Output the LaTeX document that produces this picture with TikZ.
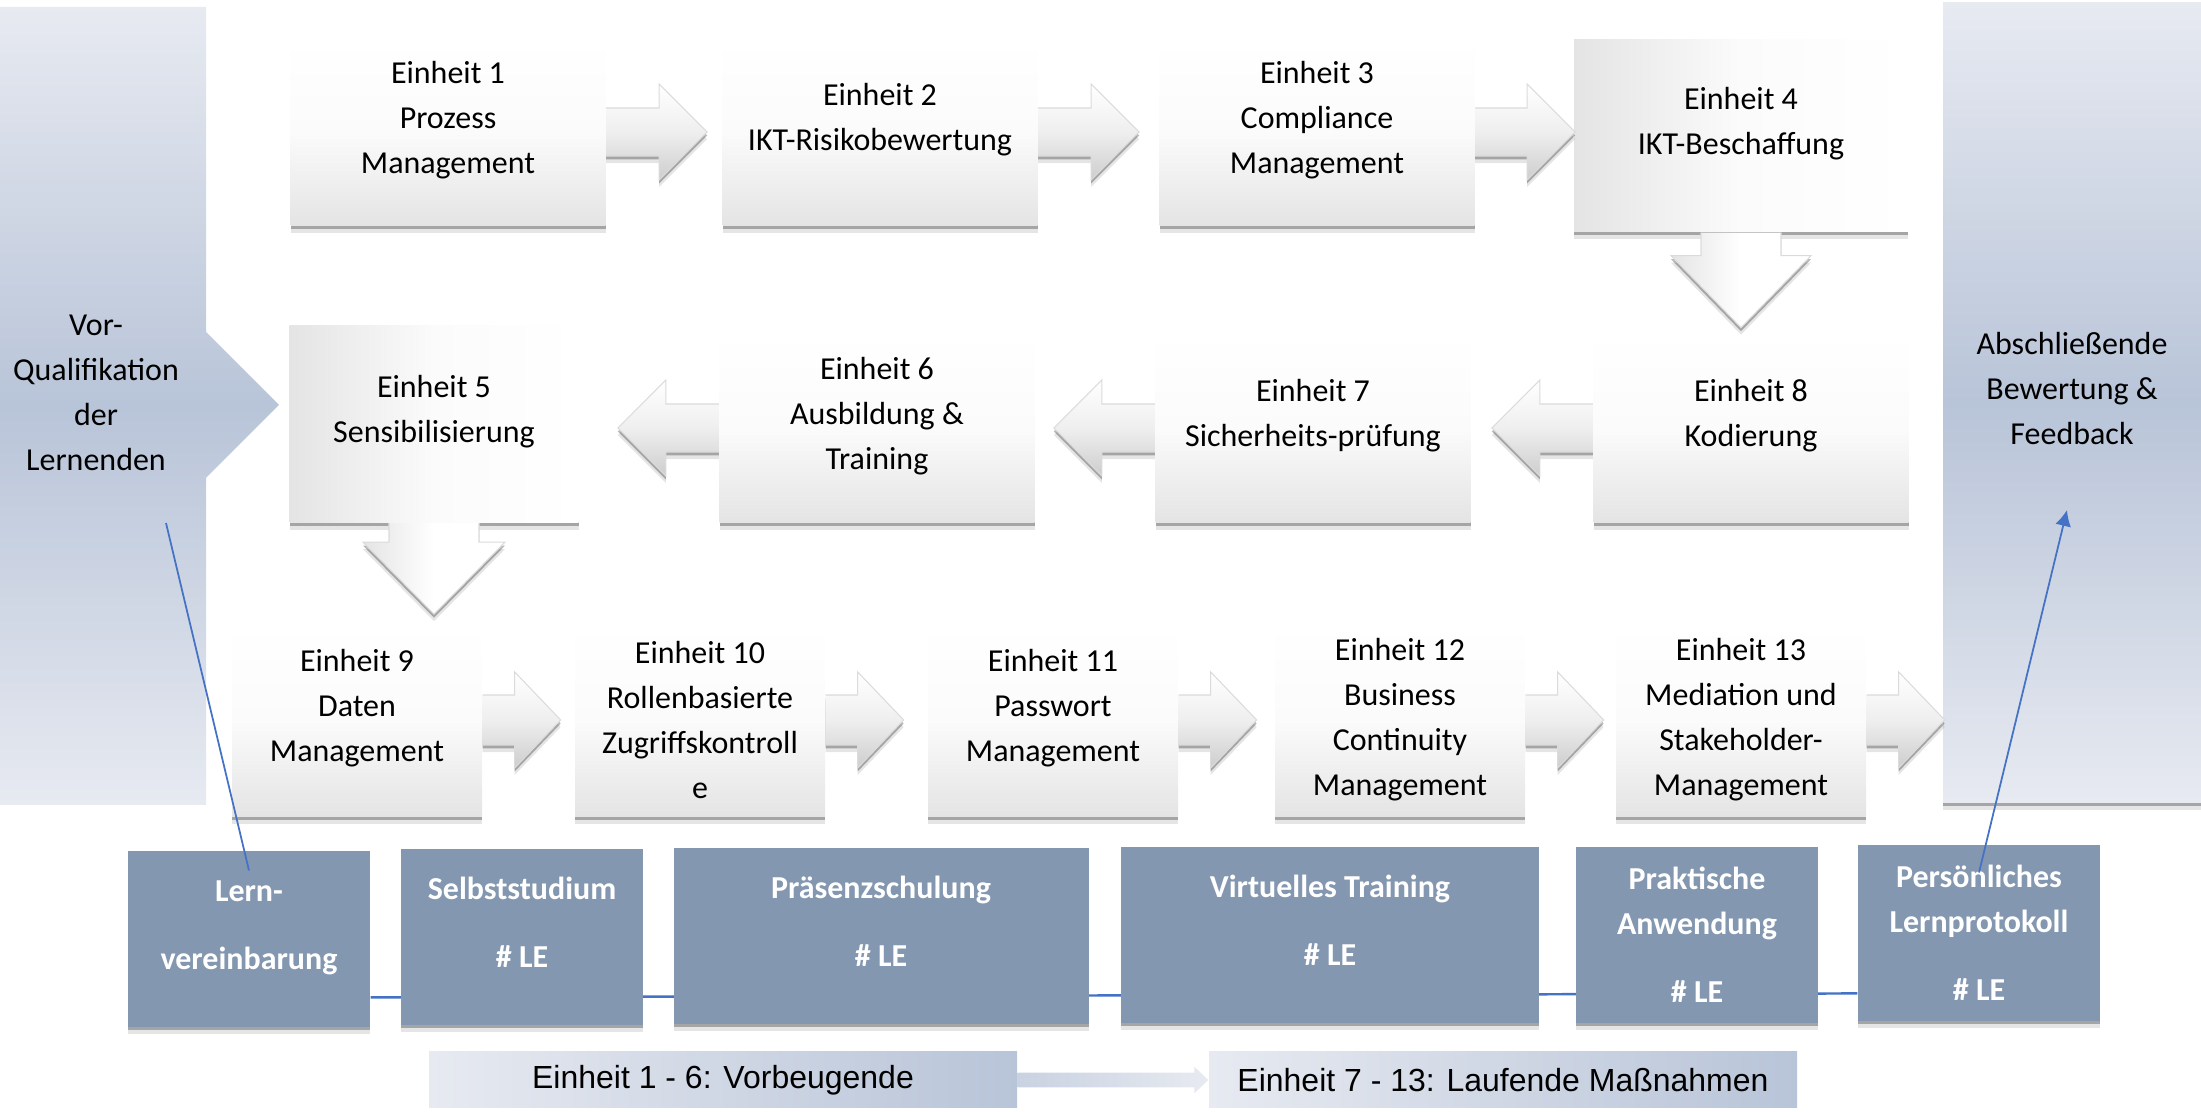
\documentclass[tikz,border=0pt]{standalone}
\usepackage{fontspec}
\setmainfont{Carlito}
\newfontfamily\arialfont{Liberation Sans}
\usetikzlibrary{arrows.meta,positioning,calc,shadows,backgrounds}

\definecolor{panellight}{HTML}{E7EAF1}
\definecolor{paneldark}{HTML}{B8C4D8}
\definecolor{methodblue}{HTML}{8497B0}
\definecolor{linkblue}{HTML}{4472C4}
\definecolor{unitgray}{HTML}{E4E4E4}
\definecolor{unitmid}{HTML}{FBFBFB}
\definecolor{phaselight}{HTML}{E7EAF1}
\definecolor{phasedark}{HTML}{B8C4D8}
\definecolor{phasearrow}{HTML}{C9D2E1}

% text block nudged up inside its box, box size unchanged
\newcommand{\lifted}[1]{\raisebox{1.25mm}[\height][\depth]{\begin{tabular}{@{}c@{}}#1\end{tabular}}}

\begin{document}
\begin{tikzpicture}[>=Latex,
    soft shadow/.style={
      drop shadow={shadow xshift=0pt, shadow yshift=-2.0pt, opacity=0.10, fill=black},
      drop shadow={shadow xshift=0pt, shadow yshift=-1.0pt, opacity=0.28, fill=black}},
    unitbase/.style={align=center, inner sep=0pt, minimum width=3.15cm, minimum height=1.88cm,
      font={\fontsize{9.1}{12.8}\selectfont}, soft shadow},
    unitbox/.style={unitbase, top color=white, bottom color=unitgray, middle color=unitmid},
    unitside/.style={unitbase, left color=unitgray, right color=white, middle color=unitmid},
    flowarrow/.style={draw=black!14, line width=0.3pt, top color=white, bottom color=unitgray!90!black, middle color=white!40!unitgray, soft shadow},
    droparrow/.style={draw=black!14, line width=0.3pt, left color=unitgray, right color=white, middle color=white, soft shadow},
    methodbox/.style={fill=methodblue, text=white, font={\fontsize{9.1}{12.8}\selectfont\bfseries},
      align=center, inner sep=0pt, minimum width=2.42cm, minimum height=1.755cm, soft shadow},
    panel/.style={top color=panellight, bottom color=panellight, middle color=paneldark},
    phasebox/.style={left color=phaselight, right color=phasedark, inner sep=0pt,
      minimum width=5.88cm, minimum height=0.56cm, font={\arialfont\fontsize{9.1}{11}\selectfont}},
    link/.style={draw=linkblue, line width=0.5pt}]

    \useasboundingbox (0,0) rectangle (22.01,11.12);

    % side panels
    \path[panel] (0,11.05) -- (2.06,11.05) -- (2.06,7.80) -- (2.79,7.07) -- (2.06,6.34) -- (2.06,3.07) -- (0,3.07) -- cycle;
    \node[align=center, font={\fontsize{9.1}{12.8}\selectfont}] (quali) at (0.96,7.19) {Vor-\\Qualifikation\\der\\Lernenden};
    \node[panel, soft shadow, align=center, inner sep=0pt, minimum width=2.58cm, minimum height=8.0cm,
      font={\fontsize{9.1}{12.8}\selectfont}] (bewertung) at (20.72,7.09) {\lifted{Abschließende\\Bewertung \&\\Feedback}};

    % units, first row
    \node[unitbox] (e1) at (4.48,9.80) {\lifted{Einheit 1\\Prozess\\Management}};
    \node[unitbox] (e2) at (8.80,9.80) {\lifted{Einheit 2\\IKT-Risikobewertung}};
    \node[unitbox] (e3) at (13.17,9.80) {\lifted{Einheit 3\\Compliance\\Management}};
    \node[unitside, minimum width=3.34cm, minimum height=1.92cm] (e4) at (17.41,9.76) {\lifted{Einheit 4\\IKT-Beschaffung}};

    % units, second row
    \node[unitside, minimum width=2.89cm, minimum height=1.97cm] (e5) at (4.34,6.88) {\lifted{Einheit 5\\Sensibilisierung}};
    \node[unitbox, minimum height=1.9cm] (e6) at (8.77,6.84) {\lifted{Einheit 6\\Ausbildung \&\\Training}};
    \node[unitbox, minimum height=1.9cm] (e7) at (13.13,6.84) {\lifted{Einheit 7\\Sicherheits-prüfung}};
    \node[unitbox, minimum height=1.9cm] (e8) at (17.51,6.84) {\lifted{Einheit 8\\Kodierung}};

    % units, third row
    \node[unitbox, minimum width=2.5cm, minimum height=1.94cm] (e9) at (3.57,3.92) {\lifted{Einheit 9\\Daten\\Management}};
    \node[unitbox, minimum width=2.5cm, minimum height=1.94cm] (e10) at (7.00,3.92) {Einheit 10\\Rollenbasierte\\Zugriffskontroll\\e};
    \node[unitbox, minimum width=2.5cm, minimum height=1.94cm] (e11) at (10.53,3.92) {\lifted{Einheit 11\\Passwort\\Management}};
    \node[unitbox, minimum width=2.5cm, minimum height=1.94cm] (e12) at (14.00,3.92) {Einheit 12\\Business\\Continuity\\Management};
    \node[unitbox, minimum width=2.5cm, minimum height=1.94cm] (e13) at (17.41,3.92) {Einheit 13\\Mediation und\\Stakeholder-\\Management};

    % block arrows between the units
    \path[flowarrow] ([yshift=0.24cm]e1.east) -- ++(0.53,0) -- ++(0,0.24) -- ++(0.48,-0.48) -- ++(-0.48,-0.48) -- ++(0,0.24) -- ++(-0.53,0);
    \path[flowarrow] ([yshift=0.24cm]e2.east) -- ++(0.53,0) -- ++(0,0.24) -- ++(0.48,-0.48) -- ++(-0.48,-0.48) -- ++(0,0.24) -- ++(-0.53,0);
    \path[flowarrow] ([yshift=0.24cm]e3.east) -- ++(0.52,0) -- ++(0,0.24) -- ++(0.48,-0.48) -- ++(-0.48,-0.48) -- ++(0,0.24) -- ++(-0.52,0);
    \path[droparrow] ([xshift=-0.40cm]e4.south) -- ++(0,-0.23) -- ++(-0.30,0) -- ++(0.70,-0.72) -- ++(0.70,0.72) -- ++(-0.30,0) -- ++(0,0.23);

    \path[flowarrow] ([yshift=0.24cm]e8.west) -- ++(-0.53,0) -- ++(0,0.24) -- ++(-0.48,-0.48) -- ++(0.48,-0.48) -- ++(0,0.24) -- ++(0.53,0);
    \path[flowarrow] ([yshift=0.24cm]e7.west) -- ++(-0.53,0) -- ++(0,0.24) -- ++(-0.48,-0.48) -- ++(0.48,-0.48) -- ++(0,0.24) -- ++(0.53,0);
    \path[flowarrow] ([yshift=0.24cm]e6.west) -- ++(-0.53,0) -- ++(0,0.24) -- ++(-0.48,-0.48) -- ++(0.48,-0.48) -- ++(0,0.24) -- ++(0.53,0);
    \path[droparrow] ([xshift=-0.45cm]e5.south) -- ++(0,-0.19) -- ++(-0.26,0) -- ++(0.71,-0.72) -- ++(0.71,0.72) -- ++(-0.26,0) -- ++(0,0.19);

    \foreach \u in {e9,e10,e11,e12,e13}
      \path[flowarrow] ([yshift=0.25cm]\u.east) -- ++(0.32,0) -- ++(0,0.23) -- ++(0.46,-0.48) -- ++(-0.46,-0.48) -- ++(0,0.23) -- ++(-0.32,0);

    % learning formats
    \node[methodbox] (b1) at (2.49,1.73) {\lifted{Lern-\\[6.4pt]vereinbarung}};
    \node[methodbox] (b2) at (5.22,1.75) {\lifted{Selbststudium\\[6.4pt]\# LE}};
    \node[methodbox, minimum width=4.15cm] (b3) at (8.81,1.76) {\lifted{Präsenzschulung\\[6.4pt]\# LE}};
    \node[methodbox, minimum width=4.18cm] (b4) at (13.30,1.77) {\lifted{Virtuelles Training\\[6.4pt]\# LE}};
    \node[methodbox] (b5) at (16.97,1.77) {Praktische\\Anwendung\\[6.4pt]\# LE};
    \node[methodbox] (b6) at (19.79,1.79) {Persönliches\\Lernprotokoll\\[6.4pt]\# LE};

    \begin{scope}[on background layer]
      \draw[link, line width=0.7pt] ([yshift=0.30cm]b1.south east) -- ([yshift=0.28cm]b6.south west);
    \end{scope}

    % phases
    \node[phasebox] (prevent) at (7.23,0.32) {Einheit 1 - 6: Vorbeugende};
    \node[phasebox] (ongoing) at (15.03,0.32) {Einheit 7 - 13: Laufende Maßnahmen};
    \path[left color=phasearrow, right color=phaselight] ([yshift=0.074cm]prevent.east)
      -- ([xshift=-0.14cm,yshift=0.074cm]ongoing.west) -- ([xshift=-0.14cm,yshift=0.133cm]ongoing.west)
      -- (ongoing.west)
      -- ([xshift=-0.14cm,yshift=-0.133cm]ongoing.west) -- ([xshift=-0.14cm,yshift=-0.074cm]ongoing.west)
      -- ([yshift=-0.074cm]prevent.east) -- cycle;

    % links to the side panels
    \coordinate (qualipin) at (1.66,5.89);
    \coordinate (bewertpin) at (20.67,6.02);
    \draw[link] (qualipin) -- ([yshift=-0.2cm]b1.north);
    \draw[link, -{Latex[length=1.6mm, width=1.6mm]}] ([yshift=-0.28cm]b6.north) -- (bewertpin);
\end{tikzpicture}
\end{document}
